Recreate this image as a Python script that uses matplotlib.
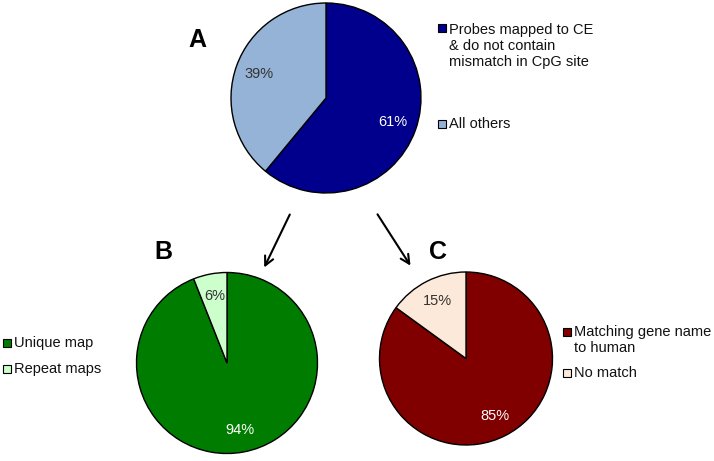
import matplotlib
matplotlib.use("Agg")
import matplotlib.pyplot as plt
from matplotlib.patches import Rectangle

plt.rcParams['font.family'] = ['Liberation Sans', 'DejaVu Sans']

# data
a_labels = ['Probes mapped to CE\n& do not contain\nmismatch in CpG site', 'All others']
a_values = [61, 39]
a_colors = ['#00008C', '#95B3D7']

b_labels = ['Unique map', 'Repeat maps']
b_values = [94, 6]
b_colors = ['#007D00', '#CCFFCC']

c_labels = ['Matching gene name\nto human', 'No match']
c_values = [85, 15]
c_colors = ['#800000', '#FDE9D9']

W, H = 714, 461
fig = plt.figure(figsize=(W / 100, H / 100), dpi=100)
ax = fig.add_axes([0, 0, 1, 1])


def py(y):
    # pixel row -> data y (y axis points up)
    return H - y


def draw_pie(values, colors, cx, cy, r, pctdist):
    wedges, texts, autotexts = ax.pie(
        values, colors=colors, startangle=90, counterclock=False,
        center=(cx, py(cy)), radius=r, autopct='%1.0f%%', pctdistance=pctdist,
        wedgeprops=dict(edgecolor='black', linewidth=1.0),
        textprops=dict(fontsize=10.5))
    autotexts[0].set_color('white')
    autotexts[1].set_color('#333333')
    return wedges


def draw_legend(labels, colors, x, ys, sq_ys):
    for lab, col, y, sy in zip(labels, colors, ys, sq_ys):
        ax.add_patch(Rectangle((x, py(sy) - 4), 8, 8, facecolor=col,
                               edgecolor='black', linewidth=0.8))
        ax.text(x + 11, py(y), lab, fontsize=10.5, va='center', ha='left',
                color='#111111', linespacing=1.15)


draw_pie(a_values, a_colors, 326, 98, 95, 0.75)
draw_pie(b_values, b_colors, 227, 363, 90.5, 0.75)
draw_pie(c_values, c_colors, 466, 358.5, 86.5, 0.74)

draw_legend(a_labels, a_colors, 438, [46, 124], [28, 124])
draw_legend(b_labels, b_colors, 3, [343, 369], [343, 369])
draw_legend(c_labels, c_colors, 563, [340, 373], [332, 373])

# panel letters
for letter, x, y in [('A', 197, 40), ('B', 163, 252), ('C', 438, 252)]:
    ax.text(x, py(y), letter, fontsize=18, fontweight='bold', ha='center', va='center')

# arrows
for (x0, y0), (x1, y1) in [((291, 212), (263, 270)), ((376, 212), (412, 268))]:
    ax.annotate('', xy=(x1, py(y1)), xytext=(x0, py(y0)),
                arrowprops=dict(arrowstyle='->', color='black', lw=1.5, mutation_scale=16))

ax.set_xlim(0, W)
ax.set_ylim(0, H)
ax.set_aspect('equal')
ax.axis('off')

fig.savefig('out.png', dpi=100, facecolor='white')
